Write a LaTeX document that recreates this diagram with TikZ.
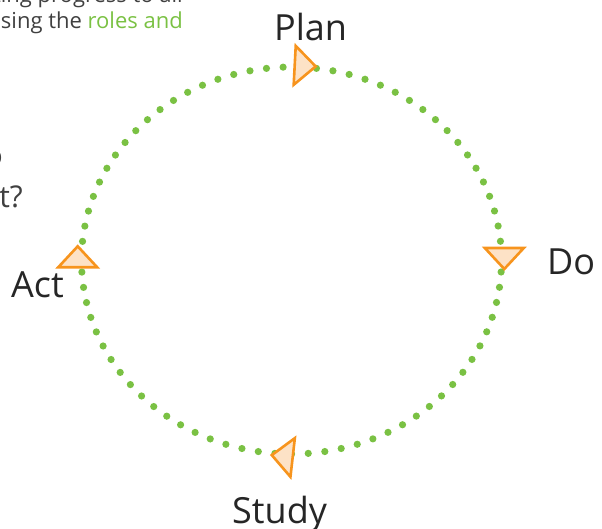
\documentclass[tikz,border=0pt]{standalone}
\usepackage{fontspec}
\setmainfont{Open Sans}
\usetikzlibrary{calc}
\definecolor{pdsagreen}{HTML}{7AC143}
\definecolor{pdsaorange}{HTML}{F7941D}
\definecolor{pdsapeach}{HTML}{FDE2C6}
\definecolor{pdsatext}{HTML}{262626}
\definecolor{notetext}{HTML}{404040}
\def\cyclearrow(#1,#2)(#3){\draw[line width=2.6pt, color=pdsaorange, fill=pdsapeach, shift={(#1,#2)}, rotate=#3] (-7,-19.5) -- (14,0) -- (-7,19.5) -- cycle;}

\begin{document}
\begin{tikzpicture}[x=1pt, y=-1pt,
	steplabel/.style={inner sep=0pt, color=pdsatext, font=\fontsize{36}{40}\selectfont},
	notelabel/.style={inner sep=0pt, color=notetext, font=\fontsize{22}{26}\selectfont}]
		%%%%% START %%%%%
		
		\useasboundingbox (0, 0) rectangle (602, 529);
		\clip (0, 0) rectangle (602, 529);
		
		% text of the slide, cut off at the left
		\node[notelabel, anchor=base east] (note1) at (183, 3) {reporting progress to all};
		\node[notelabel, anchor=base east] (note2) at (183, 29) {using the \textcolor{pdsagreen}{roles and}};
		\node[notelabel, anchor=base east, font=\fontsize{28}{32}\selectfont] (note3) at (3, 166) {do};
		\node[notelabel, anchor=base east, font=\fontsize{30}{34}\selectfont] (note4) at (23, 208) {it?};
		
		% the cycle
		\foreach \i in {0,...,78}
			\fill[pdsagreen] ({291.5+210*cos(4.557*\i+3.4)}, {260.5+193.5*sin(4.557*\i+3.4)}) circle (3.6);
		
		\cyclearrow(301.7, 65.7)(-3)
		\cyclearrow(504.3, 255)(-90)
		\cyclearrow(285.7, 456.7)(173.5)
		\cyclearrow(77.7, 260.3)(90)
		
		% the four steps
		\node[steplabel, anchor=base west] (plan) at (274, 41) {Plan};
		\node[steplabel, anchor=base west] (do) at (547, 275) {Do};
		\node[steplabel, anchor=base west] (study) at (232, 523) {Study};
		\node[steplabel, anchor=base west] (act) at (11, 298) {Act};
		
		%%%%% END %%%%%
	\end{tikzpicture}
\end{document}
